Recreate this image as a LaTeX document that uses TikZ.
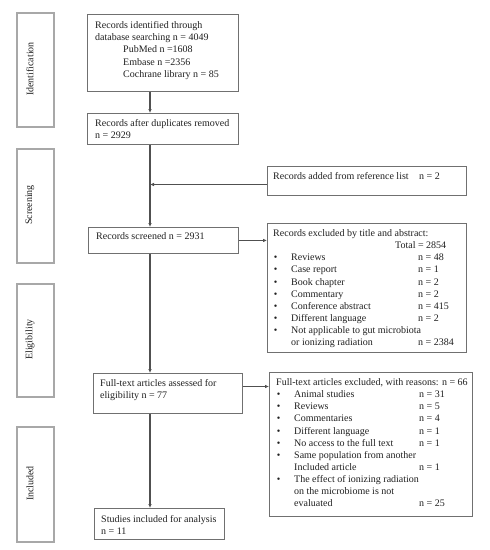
\documentclass[tikz,border=0pt]{standalone}
\usepackage{fontspec}
\setmainfont{Liberation Serif}
\usetikzlibrary{arrows.meta,calc}
\definecolor{sboxc}{HTML}{A8A8A8}
\definecolor{mboxc}{HTML}{707070}
\definecolor{linec}{HTML}{505050}
\definecolor{txtc}{HTML}{202020}
\newcommand{\rowA}[2]{\makebox[18pt][l]{\hspace{0.6pt}\textbullet}\makebox[127pt][l]{#1}#2}
\newcommand{\contA}[2]{\hspace*{18pt}\makebox[127pt][l]{#1}#2}
\newcommand{\rowB}[2]{\makebox[18pt][l]{\hspace{0.6pt}\textbullet}\makebox[125pt][l]{#1}#2}
\newcommand{\contB}[2]{\hspace*{18pt}\makebox[125pt][l]{#1}#2}
\begin{document}
\begin{tikzpicture}[x=1pt,y=-1pt,
  sbox/.style={draw=sboxc,line width=1.5pt,anchor=north west,inner sep=0pt},
  mbox/.style={draw=mboxc,line width=0.9pt,anchor=north west,inner sep=0pt},
  txt/.style={anchor=north west,inner sep=0pt,align=left,text=txtc,
    font=\fontsize{10}{12.1}\selectfont},
  stxt/.style={rotate=90,inner sep=0pt,text=txtc,font=\fontsize{10}{12}\selectfont},
  conn/.style={draw=linec,line width=1.1pt,-{Latex[length=4pt,width=3.6pt]}},
  plain/.style={draw=linec,line width=1.1pt}]
\useasboundingbox[fill=white] (0,0) rectangle (490,550);

% stage boxes
\node[sbox,minimum width=37pt,minimum height=114pt] (sid) at (16,12) {};
\node[sbox,minimum width=37pt,minimum height=114pt] (ssc) at (16,148) {};
\node[sbox,minimum width=37pt,minimum height=113pt] (sel) at (16,283) {};
\node[sbox,minimum width=37pt,minimum height=115pt] (sin) at (16,426) {};
\node[stxt] (tid) at (30,69) {Identification};
\node[stxt] (tsc) at (30,205) {Screening};
\node[stxt] (tel) at (30,339.5) {Eligibility};
\node[stxt] (tin) at (30,483.5) {Included};

% main boxes
\node[mbox,minimum width=151pt,minimum height=77pt] (b1) at (87,14) {};
\node[mbox,minimum width=151pt,minimum height=31pt] (b2) at (87,113) {};
\node[mbox,minimum width=150pt,minimum height=26pt] (b3) at (88,227) {};
\node[mbox,minimum width=149pt,minimum height=40pt] (b4) at (93,373) {};
\node[mbox,minimum width=130pt,minimum height=31pt] (b5) at (94,508) {};
\node[mbox,minimum width=199pt,minimum height=29pt] (add) at (267,166) {};
\node[mbox,minimum width=199pt,minimum height=129pt] (ex1) at (267,223) {};
\node[mbox,minimum width=203pt,minimum height=144pt] (ex2) at (269,372) {};

% texts
\node[txt] (t1) at (95,21.5) {Records identified through\\
database searching n = 4049\\
\hspace*{28pt}PubMed n =1608\\
\hspace*{28pt}Embase n =2356\\
\hspace*{28pt}Cochrane library n = 85};
\node[txt] (t2) at (95,119.5) {Records after duplicates removed\\ n = 2929};
\node[txt] (t3) at (96,232.5) {Records screened n = 2931};
\node[txt] (t4) at (100,379.5) {Full-text articles assessed for\\ eligibility n = 77};
\node[txt] (t5) at (101,515.5) {Studies included for analysis\\ n = 11};
\node[txt] (tadd) at (273,172.5) {\makebox[146pt][l]{Records added from reference list}n = 2};
\node[txt] (tex1) at (273,229.5) {Records excluded by title and abstract:\\
\hspace*{122pt}Total = 2854\\
\rowA{Reviews}{n = 48}\\
\rowA{Case report}{n = 1}\\
\rowA{Book chapter}{n = 2}\\
\rowA{Commentary}{n = 2}\\
\rowA{Conference abstract}{n = 415}\\
\rowA{Different language}{n = 2}\\
\rowA{Not applicable to gut microbiota}{}\\
\contA{or ionizing radiation}{n = 2384}};
\node[txt] (tex2) at (276,378.5) {Full-text articles excluded, with reasons: n = 66\\
\rowB{Animal studies}{n = 31}\\
\rowB{Reviews}{n = 5}\\
\rowB{Commentaries}{n = 4}\\
\rowB{Different language}{n = 1}\\
\rowB{No access to the full text}{n = 1}\\
\rowB{Same population from another}{}\\
\contB{Included article}{n = 1}\\
\rowB{The effect of ionizing radiation}{}\\
\contB{on the microbiome is not}{}\\
\contB{evaluated}{n = 25}};

% spine and connectors
\coordinate (spine) at (150,0);
\coordinate (merge) at (150,184.5);
\draw[conn] (b1.south -| spine) -- (b2.north -| spine);
\draw[conn] (b2.south -| spine) -- (b3.north -| spine);
\draw[conn] (add.west |- merge) -- (merge);
\draw[conn] (b3.east) -- (ex1.west |- b3.east);
\draw[conn] (b3.south -| spine) -- (b4.north -| spine);
\coordinate (j4) at (0,386.5);
\draw[conn] (b4.east |- j4) -- (ex2.west |- j4);
\draw[conn] (b4.south -| spine) -- (b5.north -| spine);
\end{tikzpicture}
\end{document}
